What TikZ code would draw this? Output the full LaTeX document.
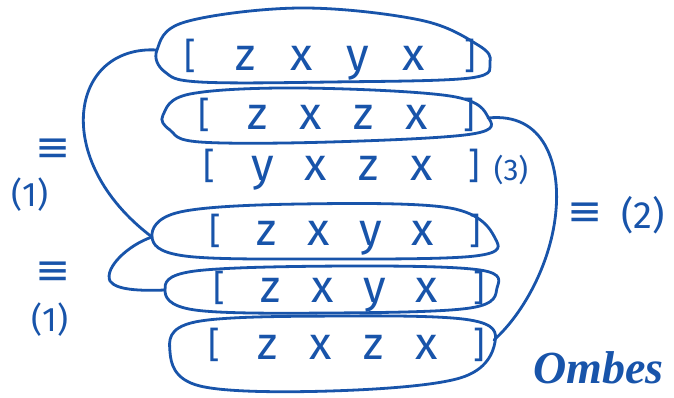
\documentclass[tikz,border=0pt]{standalone}
\usepackage{fontspec}
\setmainfont{Fira Sans}
\newfontfamily\symfont{DejaVu Sans}
\newfontfamily\handfont{Liberation Serif}
\definecolor{ink}{RGB}{24,84,170}
\newcommand\cell[2]{\makebox[#1]{#2}}
\newcommand\brk[2]{\makebox[#1]{\raisebox{2pt}{\fontsize{36}{36}\selectfont #2}}}
\begin{document}
\begin{tikzpicture}[x=1pt,y=-1pt,
  inkline/.style={draw=ink, line width=2.8pt, line cap=round, line join=round},
  rowtext/.style={text=ink, font=\fontsize{46}{46}\selectfont, inner sep=0pt},
  lab/.style={text=ink, font=\fontsize{34}{34}\selectfont, inner sep=0pt},
  eqsign/.style={text=ink, font=\symfont\fontsize{42}{42}\selectfont, inner sep=0pt}]
\useasboundingbox (0,0) rectangle (674,397);
\fill[white] (0,0) rectangle (674,397);
% rows
\node[rowtext] (r1) at (330,60) {\brk{56pt}{[}\cell{56pt}{z}\cell{56pt}{x}\cell{56pt}{y}\cell{56pt}{x}\brk{56pt}{]}};
\node[rowtext] (r2) at (337,115) {\brk{53pt}{[}\cell{53pt}{z}\cell{53pt}{x}\cell{53pt}{z}\cell{53pt}{x}\brk{53pt}{]}};
\node[rowtext] (r3) at (342,170) {\brk{53pt}{[}\cell{53pt}{y}\cell{53pt}{x}\cell{53pt}{z}\cell{53pt}{x}\brk{53pt}{]}};
\node[rowtext] (r4) at (345,235) {\brk{52pt}{[}\cell{52pt}{z}\cell{52pt}{x}\cell{52pt}{y}\cell{52pt}{x}\brk{52pt}{]}};
\node[rowtext] (r5) at (349,292) {\brk{52pt}{[}\cell{52pt}{z}\cell{52pt}{x}\cell{52pt}{y}\cell{52pt}{x}\brk{52pt}{]}};
\node[rowtext] (r6) at (347,345) {\brk{53pt}{[}\cell{53pt}{z}\cell{53pt}{x}\cell{53pt}{z}\cell{53pt}{x}\brk{53pt}{]}};
\node[text=ink, font=\fontsize{30}{30}\selectfont, inner sep=0pt] (three) at (511,170) {(3)};
% loops round the rows
\draw[inkline] plot[smooth cycle, tension=0.6] coordinates {(157,50) (185,22) (300,8) (420,20) (478,45) (490,62) (470,78) (330,82) (200,82) (165,72)};
\draw[inkline] plot[smooth cycle, tension=0.6] coordinates {(163,115) (190,94) (300,88) (450,96) (488,117) (472,134) (330,142) (200,142) (170,130)};
\draw[inkline] plot[smooth cycle, tension=0.6] coordinates {(152,237) (180,212) (300,204) (450,208) (495,238) (475,256) (320,259) (185,256)};
\draw[inkline] plot[smooth cycle, tension=0.6] coordinates {(165,290) (195,271) (350,266) (480,270) (497,288) (470,308) (330,313) (195,310)};
\draw[inkline] plot[smooth cycle, tension=0.6] coordinates {(170,352) (195,322) (340,316) (470,320) (495,342) (460,378) (330,391) (200,386)};
\coordinate (e1L) at (157,50);
\coordinate (e2R) at (488,118);
\coordinate (e4L) at (152,237);
\coordinate (e5L) at (165,290);
\coordinate (e6R) at (494,340);
\coordinate (k1) at (110,281);
\coordinate (k2) at (556,210);
% connectors
\draw[inkline] (e1L) .. controls (70,45) and (50,160) .. (e4L);
\draw[inkline] (e4L) .. controls (128,245) and (104,268) .. (k1) .. controls (116,290) and (140,291) .. (e5L);
\draw[inkline] (e2R) .. controls (545,112) and (560,165) .. (k2) .. controls (552,260) and (525,312) .. (e6R);
% labels
\node[eqsign] (eqA) at (53,150) {≡};
\node[lab] (oneA) at (30,195) {(1)};
\node[eqsign] (eqB) at (53,273) {≡};
\node[lab] (oneB) at (50,320) {(1)};
\node[eqsign] (eqC) at (585,214) {≡};
\node[lab, font=\fontsize{38}{38}\selectfont] (twoC) at (643,215) {(2)};
\node[text=ink, font=\handfont\bfseries\itshape\fontsize{46}{46}\selectfont, anchor=east, inner sep=0pt] (sig) at (664,368) {Ombes};
\end{tikzpicture}
\end{document}
